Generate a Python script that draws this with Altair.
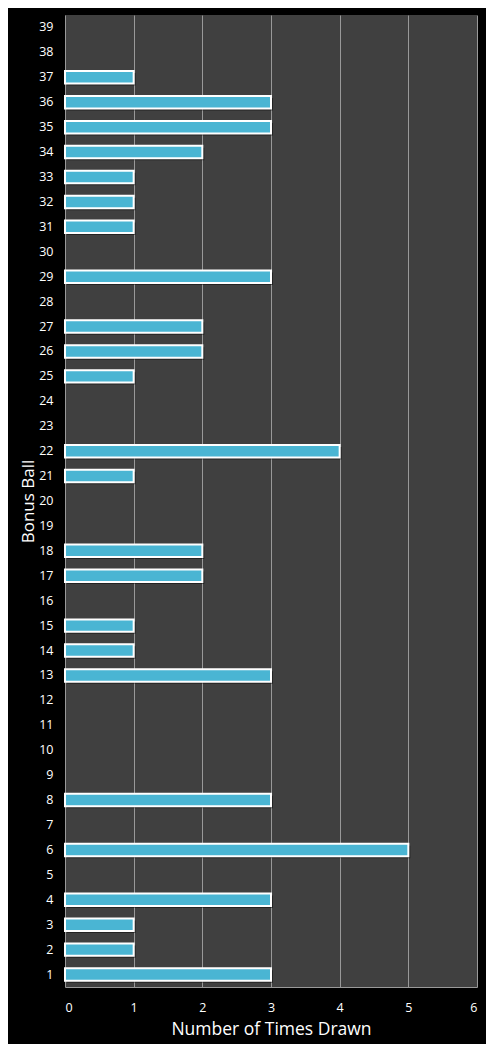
import altair as alt
import pandas as pd

balls = [str(i) for i in range(1, 40)]
counts = [3, 1, 1, 3, 0, 5, 0, 3, 0, 0,
          0, 0, 3, 1, 1, 0, 2, 2, 0, 0,
          1, 4, 0, 0, 1, 2, 2, 0, 3, 0,
          1, 1, 1, 2, 3, 3, 1, 0, 0]

df = pd.DataFrame({"ball": balls, "count": counts})
order = list(reversed(balls))

y_enc = alt.Y("ball:N", sort=order, scale=alt.Scale(domain=order, paddingInner=0.5, paddingOuter=0.25),
              axis=alt.Axis(title="Bonus Ball", labelColor="white", titleColor="white",
                            labelFontSize=12.5, titleFontSize=17, titleFontWeight="normal",
                            ticks=False, domain=False, grid=False, labelPadding=12,
                            titlePadding=1, labelFont="Open Sans", titleFont="Open Sans"))
x_enc = alt.X("count:Q", scale=alt.Scale(domain=[0, 6], nice=False),
              axis=alt.Axis(title="Number of Times Drawn", values=[0, 1, 2, 3, 4, 5, 6],
                            labelColor="white", titleColor="white", labelFontSize=12.5,
                            titleFontSize=17.5, titleFontWeight="normal", ticks=False,
                            domain=True, domainColor="#999999", grid=True, gridColor="#999999",
                            gridWidth=1, labelPadding=14, titlePadding=7,
                            labelFont="Open Sans", titleFont="Open Sans"))

base = alt.Chart(df).transform_filter(alt.datum["count"] > 0)

shadow = base.mark_bar(color="#000000", opacity=0.45, xOffset=2, yOffset=2).encode(
    x=x_enc, y=y_enc)
bars = base.mark_bar(color="#4ab5d3", stroke="white", strokeWidth=2).encode(
    x=x_enc, y=y_enc)

chart = alt.layer(shadow, bars).properties(
    width=412, height=972,
    background="black",
    padding={"left": 57, "top": 7, "right": 9, "bottom": 57},
    autosize=alt.AutoSizeParams(type="none"),
).configure_view(fill="#404040", stroke=None)

chart.save("out.html", embed_options={"renderer": "svg", "actions": False})
